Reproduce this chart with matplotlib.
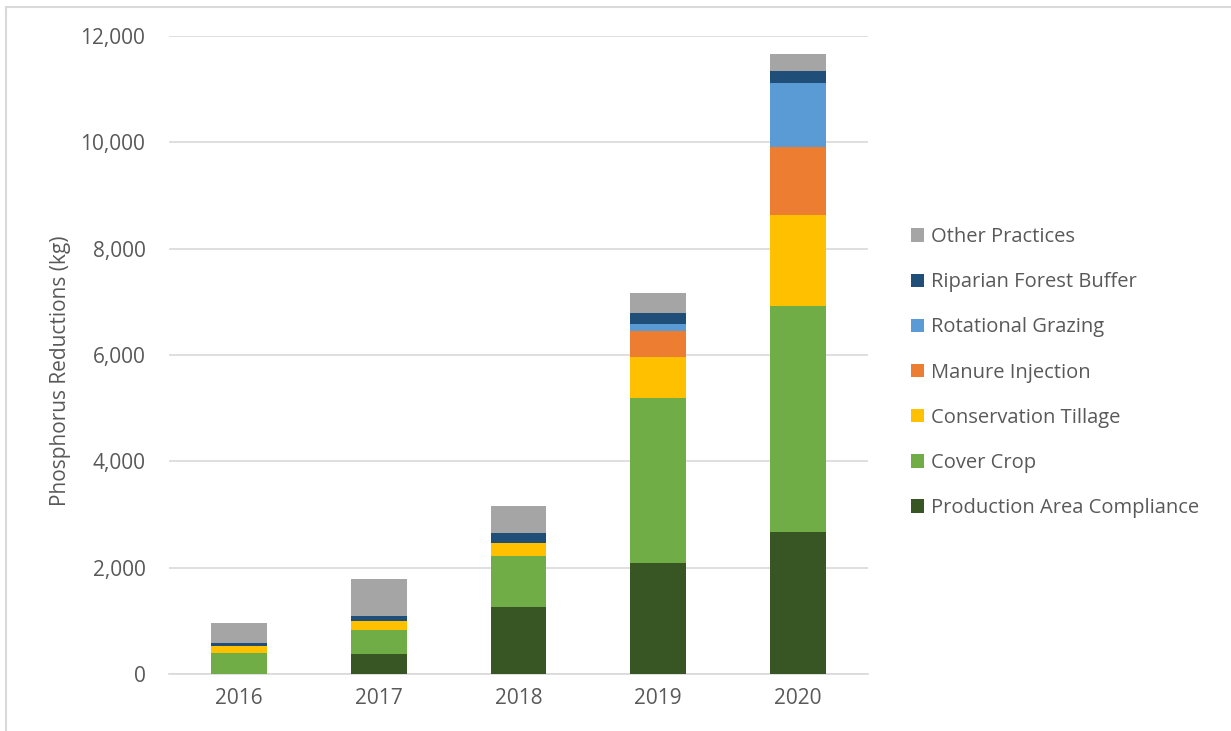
import numpy as np
import matplotlib.pyplot as plt
from matplotlib.lines import Line2D
from matplotlib.ticker import FuncFormatter

plt.rcParams['font.family'] = ['Open Sans', 'DejaVu Sans']

years = ['2016', '2017', '2018', '2019', '2020']
practices = ['Production Area Compliance', 'Cover Crop', 'Conservation Tillage',
             'Manure Injection', 'Rotational Grazing', 'Riparian Forest Buffer',
             'Other Practices']
production_area = [0, 382, 1253, 2093, 2676]
cover_crop = [400, 445, 971, 3107, 4254]
cons_tillage = [130, 163, 245, 761, 1695]
manure_inj = [0, 0, 0, 489, 1279]
rot_grazing = [0, 0, 0, 137, 1216]
riparian = [45, 100, 190, 207, 220]
other = [377, 690, 510, 376, 330]
colors = ['#375623', '#70AD47', '#FFC000', '#ED7D31', '#5B9BD5', '#1F4E79', '#A5A5A5']

series = [production_area, cover_crop, cons_tillage, manure_inj,
          rot_grazing, riparian, other]

fig = plt.figure(figsize=(12.31, 7.31), dpi=100)
ax = fig.add_axes([169 / 1231, 1 - 674 / 731, 699 / 1231, 638 / 731])

x = np.arange(len(years))
bottom = np.zeros(len(years))
handles = []
for vals, col, name in zip(series, colors, practices):
    b = ax.bar(x, vals, 0.4, bottom=bottom, color=col, label=name, zorder=3)
    bottom += np.array(vals)
    handles.append(b)

ax.set_ylim(0, 12000)
ax.set_xlim(-0.5, 4.5)
ax.set_yticks(np.arange(0, 12001, 2000))
ax.yaxis.set_major_formatter(FuncFormatter(lambda v, p: f'{int(v):,}'))
ax.set_xticks(x)
ax.set_xticklabels(years)
ax.grid(axis='y', color='#D9D9D9', linewidth=1.2, zorder=0)
for s in ['top', 'right', 'left']:
    ax.spines[s].set_visible(False)
ax.spines['bottom'].set_color('#D9D9D9')
ax.spines['bottom'].set_linewidth(1.2)
ax.tick_params(axis='both', length=0, labelsize=15, colors='#595959')
ax.tick_params(axis='y', pad=17)
ax.tick_params(axis='x', pad=10)
ax.set_ylabel('Phosphorus Reductions (kg)', fontsize=15, color='#595959')
ax.yaxis.set_label_coords(-0.140, 0.475)

leg = fig.legend(handles[::-1], practices[::-1], loc='upper left',
                 bbox_to_anchor=(893 / 1231, 1 - 209 / 731), frameon=False,
                 fontsize=14.5, labelcolor='#595959', handlelength=0.65,
                 handleheight=0.65, handletextpad=0.35, labelspacing=1.25)

# light border of the chart frame
fig.add_artist(Line2D([6 / 1231, 6 / 1231], [0, 1 - 7 / 731], color='#D9D9D9',
                      linewidth=1.5, transform=fig.transFigure))
fig.add_artist(Line2D([6 / 1231, 1], [1 - 7 / 731, 1 - 7 / 731], color='#D9D9D9',
                      linewidth=1.5, transform=fig.transFigure))

fig.savefig('out.png', dpi=100)
